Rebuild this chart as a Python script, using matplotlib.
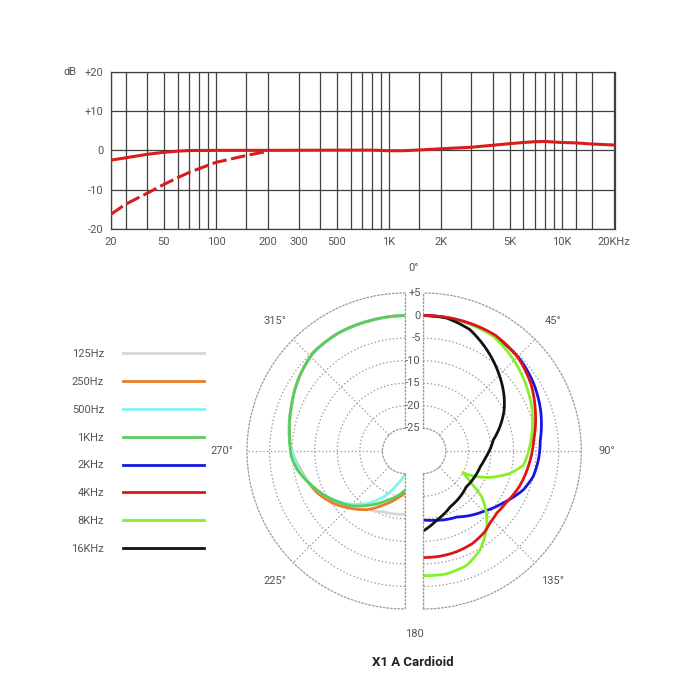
import numpy as np
import matplotlib
matplotlib.use("Agg")
import matplotlib.pyplot as plt
import matplotlib.transforms as mtransforms

plt.rcParams['font.family'] = ['Roboto', 'DejaVu Sans']
plt.rcParams['lines.scale_dashes'] = False

# ---------------- frequency response data ----------------
freq_solid = [24.6, 30, 40, 50, 60, 70, 100, 200, 500, 800, 1000, 1200, 1500, 2000,
              3000, 4000, 5000, 6000, 7000, 8000, 10000, 12000, 15000, 20300]
db_solid = [-2.5, -1.9, -1.0, -0.5, -0.2, -0.05, 0, 0, 0.05, 0.05, -0.1, -0.1, 0.1, 0.4,
            0.8, 1.3, 1.7, 2.0, 2.2, 2.25, 2.0, 1.9, 1.6, 1.35]
freq_dashed = [24.6, 30, 40, 50, 60, 70, 90, 100, 150, 200]
db_dashed = [-16.3, -13.7, -10.9, -8.65, -6.95, -5.6, -3.8, -3.05, -1.3, -0.2]

xtick_values = [24.6, 50, 100, 200, 300, 500, 1000, 2000, 5000, 10000, 20000]
xtick_labels = ['20', '50', '100', '200', '300', '500', '1K', '2K', '5K', '10K', '20KHz']
xgrid_minor = [30, 40, 60, 70, 80, 90, 150, 400, 600, 700, 800, 900, 1500,
               3000, 4000, 6000, 7000, 8000, 9000, 12000, 15000]
ytick_values = [-20, -10, 0, 10, 20]
ytick_labels = ['-20', '-10', '0', '+10', '+20']

# ---------------- polar data (angle in degrees, level in dB) ----------------
ang_125 = [180, 200, 211, 220, 230, 240, 250, 262, 275, 291, 305, 317, 330, 345, 360]
db_125 = [-16.0, -15.7, -14.8, -13.3, -11.5, -9.7, -7.9, -6.0, -4.3, -3.0, -1.4, -0.2, 0, -0.1, 0]
ang_250 = [180, 190, 202, 213, 224, 234, 245, 259, 270, 279, 291, 305, 317, 330, 345, 360]
db_250 = [-20.8, -19.3, -17.1, -14.5, -12.4, -10.3, -8.4, -6.6, -4.8, -4.1, -3.0, -1.4, -0.2, 0, -0.1, 0]
ang_500 = [180, 194, 205, 216, 228, 240, 251, 262, 275, 291, 305, 317, 330, 345, 360]
db_500 = [-25.0, -22.2, -18.8, -15.6, -12.6, -9.9, -7.7, -6.0, -4.3, -3.0, -1.4, -0.2, 0, -0.1, 0]
ang_1k = [180, 200, 213, 225, 238, 249, 260, 267, 279, 291, 305, 317, 330, 345, 360]
db_1k = [-21.3, -18.4, -15.7, -12.9, -10.3, -8.1, -5.8, -4.8, -4.1, -3.0, -1.4, -0.2, 0, -0.1, 0]
ang_2k = [0, 17, 33, 47, 58, 71, 85, 94, 103, 111, 123, 135, 153, 172, 180]
db_2k = [0, 0, -0.1, -0.5, -1.3, -2.5, -4.0, -4.4, -5.0, -6.2, -8.9, -11.1, -13.6, -14.5, -14.7]
ang_4k = [0, 17, 32, 45, 58, 70, 84, 97, 110, 122, 130, 137, 143, 152, 162, 171, 180]
db_4k = [0, 0.1, 0.2, -0.5, -1.9, -3.6, -5.4, -6.4, -7.3, -8.4, -8.7, -8.3, -7.5, -6.8, -6.5, -6.4, -6.4]
ang_8k = [0, 15, 31, 45, 56, 69, 83, 93, 98, 104.5, 111.6, 116.7, 118.7, 124, 128, 134.7, 141.4,
          150.3, 159.3, 169.4, 180]
db_8k = [0, 0, -0.2, -1.6, -2.8, -4.2, -5.9, -7.0, -7.6, -10.2, -14.1, -17.6, -20.0, -17.1, -13.6,
         -10.3, -7.6, -4.7, -2.9, -2.3, -2.4]
ang_16k = [0, 10, 21, 32, 44, 56, 63, 72, 81, 95, 105, 118, 130, 154, 169, 180]
db_16k = [0, -0.1, -1.2, -3.5, -6.0, -8.4, -9.9, -12.1, -14.3, -16.0, -16.9, -17.3, -17.6, -16.3,
          -14.4, -12.3]

series_labels = ['125Hz', '250Hz', '500Hz', '1KHz', '2KHz', '4KHz', '8KHz', '16KHz']
series_colors = ['#d6d6d6', '#e87d28', '#84f2ee', '#5ecb5e', '#1616e0', '#dc1616', '#88ef2a', '#111111']

r_ticks = [5, 0, -5, -10, -15, -20, -25]
r_tick_labels = ['+5', '0', '-5', '-10', '-15', '-20', '-25']
angle_labels_right = [(45, '45°'), (90, '90°'), (135, '135°')]
angle_labels_left = [(225, '225°'), (270, '270°'), (315, '315°')]

# ---------------- figure ----------------
fig = plt.figure(figsize=(7, 7), dpi=100)
W = H = 700.0
gray_txt = '#555555'
grid_dark = '#404040'
red = '#d91c1c'

# ---- frequency response axes ----
ax = fig.add_axes([110.7 / W, 1 - 229 / H, (615 - 110.7) / W, 157.3 / H])
ax.set_xscale('log')
ax.set_xlim(24.6, 20300)
ax.set_ylim(-20, 20)
ax.plot(freq_solid, db_solid, color=red, lw=2.2, solid_capstyle='round', zorder=3)
ax.plot(freq_dashed, db_dashed, color=red, lw=2.2, dashes=(10.5, 3.2), zorder=3)
ax.set_xticks(xtick_values)
ax.set_xticklabels(xtick_labels)
ax.set_xticks(xgrid_minor, minor=True)
ax.xaxis.set_minor_formatter(matplotlib.ticker.NullFormatter())
ax.set_yticks(ytick_values)
ax.set_yticklabels(ytick_labels)
ax.tick_params(axis='both', which='both', length=0, labelsize=8, labelcolor=gray_txt)
ax.tick_params(axis='x', pad=6)
ax.tick_params(axis='y', pad=5)
ax.grid(True, which='both', color=grid_dark, lw=0.9)
for sp in ax.spines.values():
    sp.set_color(grid_dark)
    sp.set_linewidth(0.9)
ax.annotate('dB', xy=(0, 1), xycoords='axes fraction', xytext=(-29, 0),
            textcoords='offset points', ha='center', va='center', fontsize=8, color=gray_txt)

# ---- polar axes (two halves with a gap) ----
R = 158.0
cy = 451.0
def make_half(disk_center_x, tmin, tmax, grids):
    # half disk occupies the central half (horizontally) of a square box
    a = fig.add_axes([(disk_center_x - R) / W, (H - cy - R) / H, 2 * R / W, 2 * R / H],
                     projection='polar')
    a.set_theta_zero_location('N')
    a.set_theta_direction(-1)
    a.set_thetamin(tmin)
    a.set_thetamax(tmax)
    a.set_ylim(-25, 5)
    a.set_rorigin(-30)
    a.set_thetagrids(grids, labels=[''] * len(grids))
    a.set_rgrids([-20, -15, -10, -5, 0], labels=[''] * 5)
    a.grid(True, color='#9a9a9a', linestyle=':', lw=0.9)
    for sp in a.spines.values():
        sp.set_color('#9a9a9a')
        sp.set_linestyle(':')
        sp.set_linewidth(0.9)
    a.tick_params(length=0)
    return a

# right half: straight edge at x=423.3 -> wedge centre at 423.3 + R/2
axR = make_half(423.3 + R / 2, 0, 180, [0, 45, 90, 135, 180])
axL = make_half(405.0 - R / 2, 180, 360, [180, 225, 270, 315, 360])

def polar_line(a, angs, dbs, i):
    ln, = a.plot(np.radians(angs), dbs, color=series_colors[i], lw=2.0,
                 label=series_labels[i], solid_joinstyle='round')
    # let the polar projection draw each segment along theta/r (curved) instead of straight
    ln.get_path()._interpolation_steps = 24
    return ln

handles = {}
left_series = [(ang_125, db_125, 0), (ang_250, db_250, 1), (ang_500, db_500, 2), (ang_1k, db_1k, 3)]
for angs, dbs, i in left_series:
    handles[i] = polar_line(axL, angs, dbs, i)
right_series = [(ang_2k, db_2k, 4), (ang_8k, db_8k, 6), (ang_16k, db_16k, 7), (ang_4k, db_4k, 5)]
for angs, dbs, i in right_series:
    handles[i] = polar_line(axR, angs, dbs, i)

# radial labels in the gap
off_gap = mtransforms.ScaledTranslation(-2.5 / 100, 0, fig.dpi_scale_trans)
for rv, lab in zip(r_ticks, r_tick_labels):
    axR.text(0, rv, lab, transform=axR.transData + off_gap, ha='right', va='center',
             fontsize=8, color=gray_txt, clip_on=False)

# angle labels
r_lab = 10.6
off_mid = mtransforms.ScaledTranslation(-9.3 / 100, 0, fig.dpi_scale_trans)
axR.text(0, r_lab, '0°', transform=axR.transData + off_mid, ha='center', va='center',
         fontsize=8, color=gray_txt, clip_on=False)
axR.text(np.pi, r_lab, '180', transform=axR.transData + off_mid, ha='center', va='center',
         fontsize=8, color=gray_txt, clip_on=False)
for deg, lab in angle_labels_right:
    axR.text(np.radians(deg), r_lab, lab, ha='center', va='center', fontsize=8,
             color=gray_txt, clip_on=False)
for deg, lab in angle_labels_left:
    axL.text(np.radians(deg), r_lab, lab, ha='center', va='center', fontsize=8,
             color=gray_txt, clip_on=False)

# legend
fig.legend([handles[i] for i in range(8)], series_labels, loc='center right',
           bbox_to_anchor=(204 / W, 1 - 451.5 / H), markerfirst=False, frameon=False,
           handlelength=7.3, handletextpad=1.7, labelspacing=1.6, fontsize=8,
           labelcolor=gray_txt, borderpad=0, borderaxespad=0)

fig.text(413 / W, 1 - 663 / H, 'X1 A Cardioid', ha='center', va='center', fontsize=9.5,
         fontweight='bold', color='#222222')

fig.savefig('out.png', dpi=100)
